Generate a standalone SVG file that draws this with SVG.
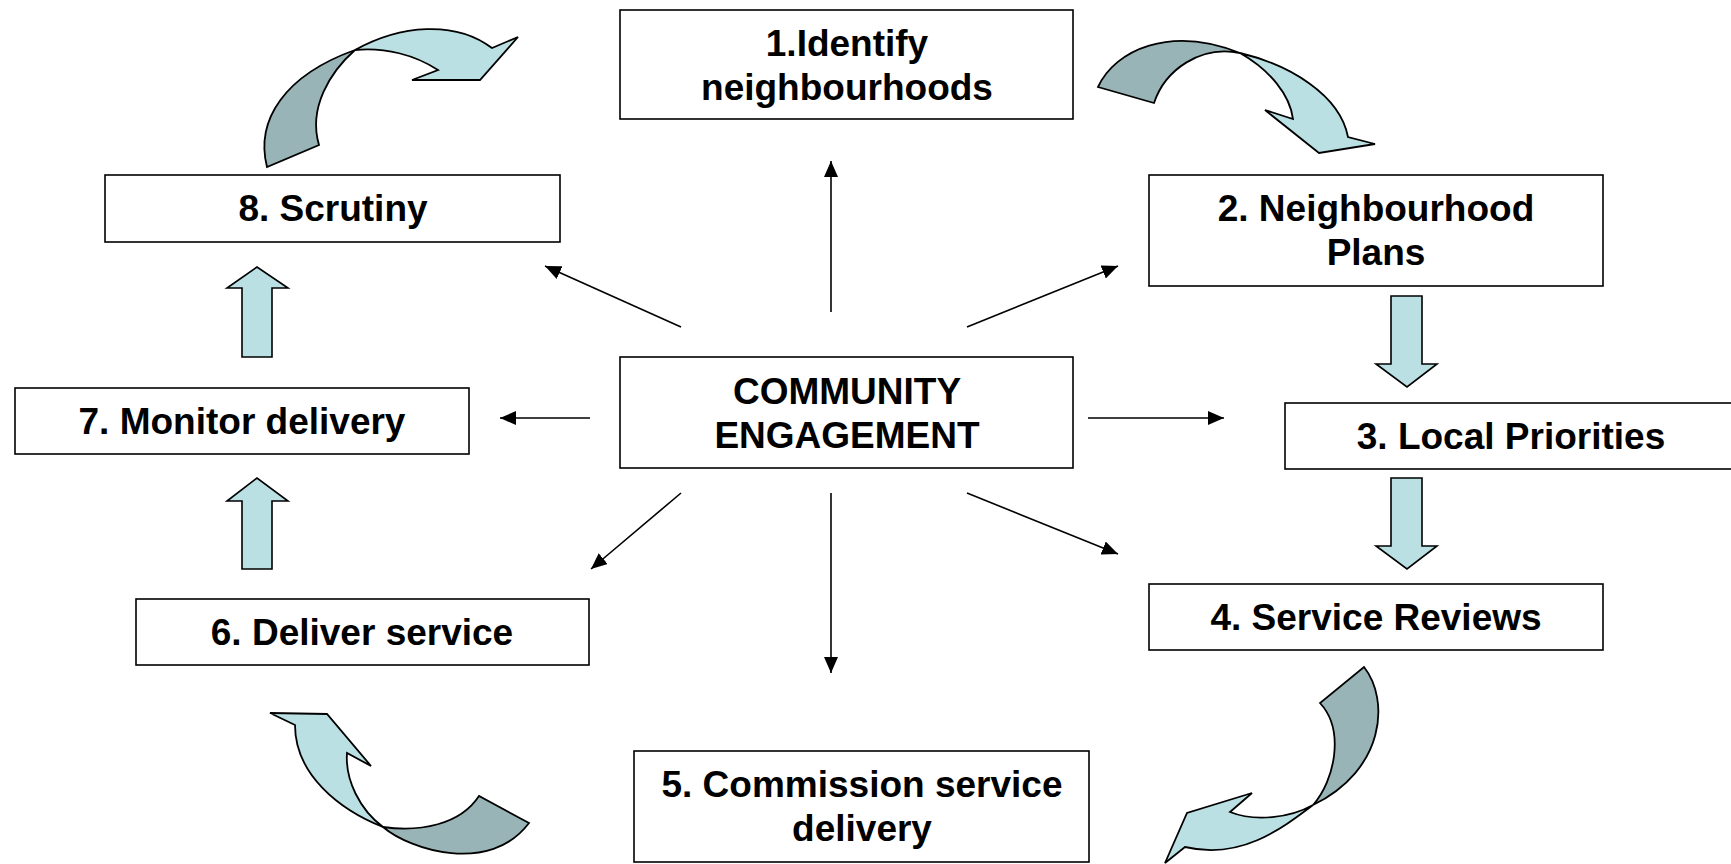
<svg xmlns="http://www.w3.org/2000/svg" width="1731" height="864" viewBox="0 0 1731 864">
<style>
.box{fill:#fff;stroke:#000;stroke-width:1.6}
.lbl{font-family:"Liberation Sans",Arial,sans-serif;font-weight:bold;font-size:37px;text-anchor:middle;fill:#000}
.con{stroke:#000;stroke-width:1.6;fill:none;marker-end:url(#ah)}
.blk{fill:#BAE0E3;stroke:#000;stroke-width:1.6;stroke-linejoin:miter}
.lt{fill:#BAE0E3;stroke:#000;stroke-width:1.8;stroke-linejoin:miter}
.dk{fill:#98B4B6;stroke:#000;stroke-width:1.8;stroke-linejoin:miter}
</style>
<defs>
<marker id="ah" markerUnits="userSpaceOnUse" markerWidth="18" markerHeight="14" refX="16" refY="7" orient="auto">
<path d="M0,0 L16,7 L0,14 Z" fill="#000"/>
</marker>
</defs>
<rect width="1731" height="864" fill="#fff"/>

<g id="connectors">
<line class="con" x1="831" y1="312" x2="831" y2="161"/>
<line class="con" x1="831" y1="493" x2="831" y2="673"/>
<line class="con" x1="967" y1="327" x2="1118" y2="266"/>
<line class="con" x1="1088" y1="418" x2="1224" y2="418"/>
<line class="con" x1="967" y1="493" x2="1118" y2="554"/>
<line class="con" x1="681" y1="327" x2="545" y2="266"/>
<line class="con" x1="590" y1="418" x2="500" y2="418"/>
<line class="con" x1="681" y1="493" x2="591" y2="569"/>
</g>

<g id="flow-arrows">
<path class="blk" d="M1391,296 L1422,296 L1422,364 L1437,364 L1407,387 L1376,364 L1391,364 Z"/>
<path class="blk" d="M1391,478 L1422,478 L1422,546 L1437,546 L1407,569 L1376,546 L1391,546 Z"/>
<path class="blk" d="M242,357 L272,357 L272,288 L288,288 L257,267 L227,288 L242,288 Z"/>
<path class="blk" d="M242,569 L272,569 L272,501 L288,501 L257,478 L227,501 L242,501 Z"/>
</g>

<g id="curved-arrows">
<g id="curve-top-left">
<path class="dk" d="M267,167 C255,120 285,75 355,50 C330,72 308,108 319,145 Z"/>
<path class="lt" d="M355,50 C400,25 455,20 492,48 L518,37 L480,80 L412,80 L438,70 C415,55 385,47 355,50 Z"/>
</g>
<g id="curve-top-right">
<path class="dk" d="M1098,87 C1115,50 1170,25 1240,53 C1200,45 1165,70 1154,103 Z"/>
<path class="lt" d="M1240,53 C1290,65 1340,95 1348,137 L1375,144 L1319,153 L1265,110 L1293,119 C1290,95 1270,70 1240,53 Z"/>
</g>
<g id="curve-bottom-right">
<path class="dk" d="M1364,667 C1390,700 1385,770 1313,805 C1335,780 1345,730 1320,703 Z"/>
<path class="lt" d="M1313,805 C1280,830 1240,860 1185,847 L1165,863 L1187,813 L1252,793 L1230,812 C1255,822 1290,818 1313,805 Z"/>
</g>
<g id="curve-bottom-left">
<path class="dk" d="M383,827 C410,850 490,875 529,823 L479,796 C460,825 420,832 383,827 Z"/>
<path class="lt" d="M270,713 L327,714 L371,766 L347,753 C345,780 360,810 383,827 C340,810 295,775 295,725 Z"/>
</g>
</g>

<g id="node-1">
<rect class="box" x="620" y="10" width="453" height="109"/>
<text class="lbl" x="847" y="56">1.Identify</text>
<text class="lbl" x="847" y="100">neighbourhoods</text>
</g>
<g id="node-2">
<rect class="box" x="1149" y="175" width="454" height="111"/>
<text class="lbl" x="1376" y="221">2. Neighbourhood</text>
<text class="lbl" x="1376" y="265">Plans</text>
</g>
<g id="node-3">
<rect class="box" x="1285" y="403" width="453" height="66"/>
<text class="lbl" x="1511" y="449">3. Local Priorities</text>
</g>
<g id="node-4">
<rect class="box" x="1149" y="584" width="454" height="66"/>
<text class="lbl" x="1376" y="630">4. Service Reviews</text>
</g>
<g id="node-5">
<rect class="box" x="634" y="751" width="455" height="111"/>
<text class="lbl" x="862" y="797">5. Commission service</text>
<text class="lbl" x="862" y="841">delivery</text>
</g>
<g id="node-6">
<rect class="box" x="136" y="599" width="453" height="66"/>
<text class="lbl" x="362" y="645">6. Deliver service</text>
</g>
<g id="node-7">
<rect class="box" x="15" y="388" width="454" height="66"/>
<text class="lbl" x="242" y="434">7. Monitor delivery</text>
</g>
<g id="node-8">
<rect class="box" x="105" y="175" width="455" height="67"/>
<text class="lbl" x="333" y="221">8. Scrutiny</text>
</g>
<g id="node-center">
<rect class="box" x="620" y="357" width="453" height="111"/>
<text class="lbl" x="847" y="404">COMMUNITY</text>
<text class="lbl" x="847" y="448">ENGAGEMENT</text>
</g>
</svg>
